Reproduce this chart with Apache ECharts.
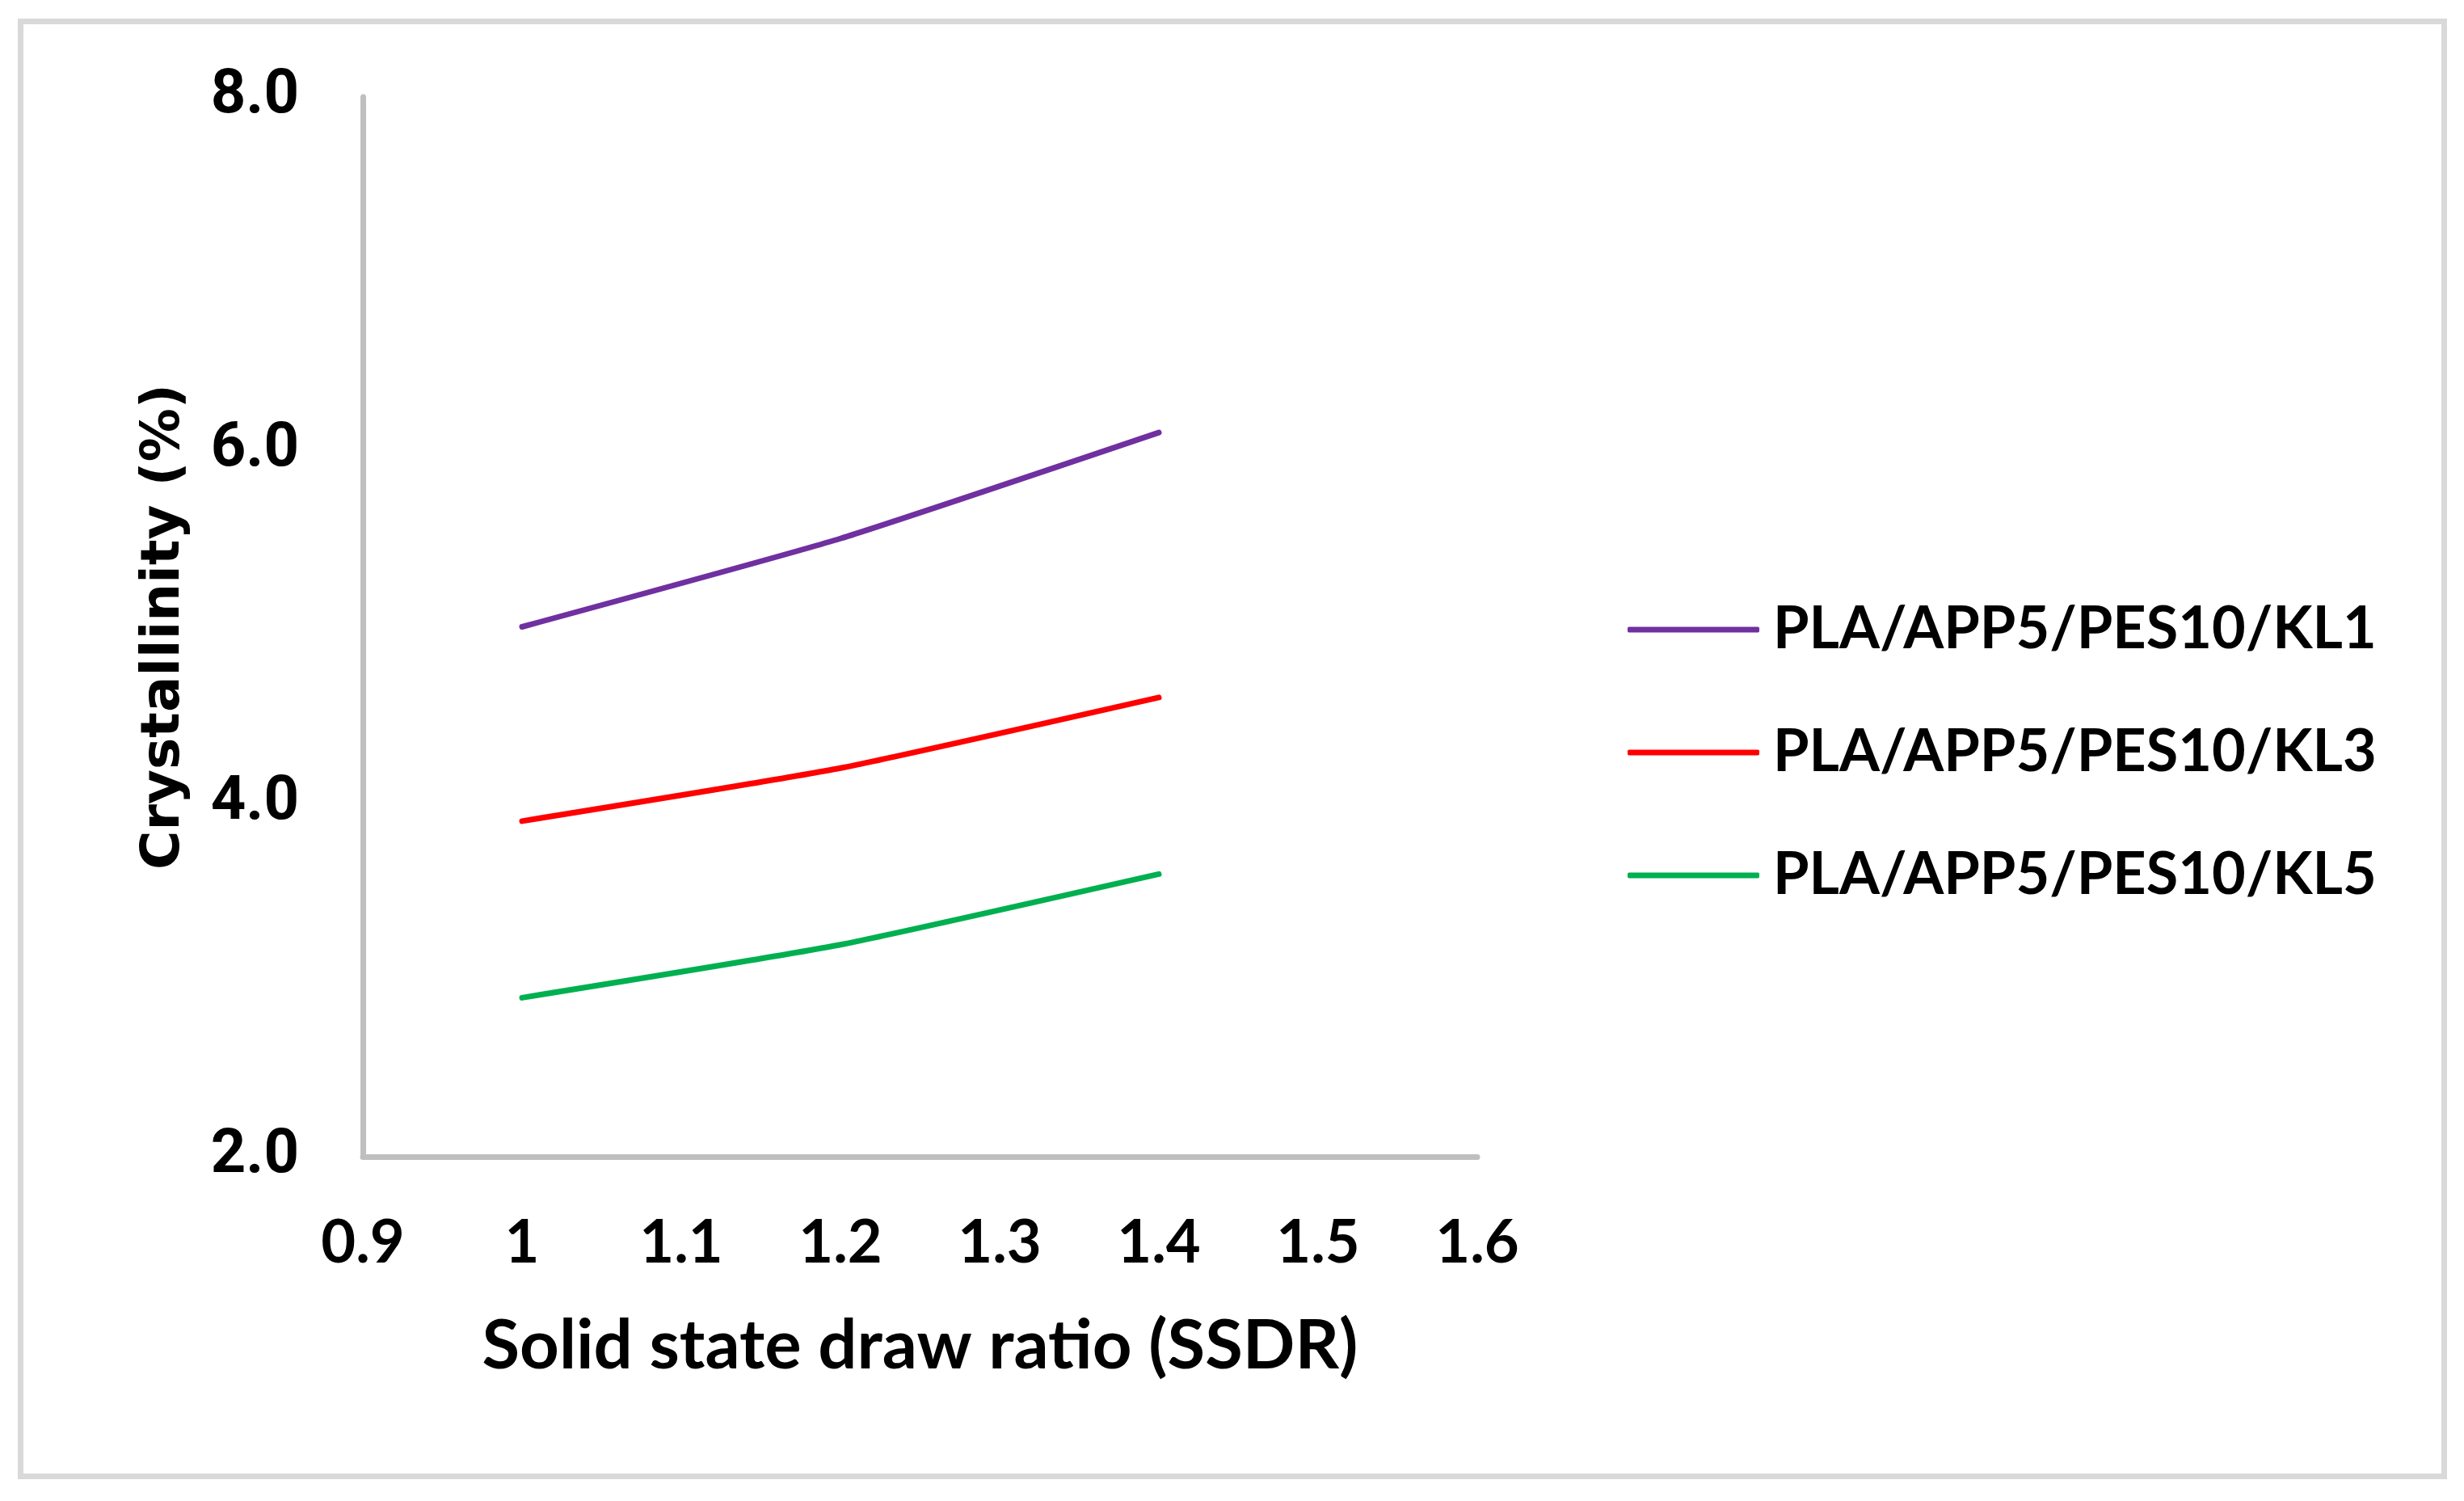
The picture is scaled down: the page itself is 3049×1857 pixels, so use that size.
<!DOCTYPE html>
<html>
<head>
<meta charset="utf-8">
<script src="https://cdn.jsdelivr.net/npm/echarts@6/dist/echarts.min.js"></script>
<style>
  html, body { margin: 0; padding: 0; background: #ffffff; }
  #chart { position: absolute; left: 0; top: 0; width: 3049px; height: 1857px; }
  #frame { position: absolute; left: 22px; top: 23px; width: 3006px; height: 1807px;
           border: 7px solid #d9d9d9; box-sizing: border-box; pointer-events: none; }
</style>
</head>
<body>
<div id="chart"></div>
<div id="frame"></div>
<script>
// ---- data ----
const ssdr = [1.0, 1.2, 1.4];
const seriesNames = ['PLA/APP5/PES10/KL1', 'PLA/APP5/PES10/KL3', 'PLA/APP5/PES10/KL5'];
const kl1 = [5.0, 5.5, 6.1];
const kl3 = [3.9, 4.2, 4.6];
const kl5 = [2.9, 3.2, 3.6];
const seriesColors = ['#7030A0', '#FF0000', '#00B050'];
const xTitle = 'Solid state draw ratio (SSDR)';
const yTitle = 'Crystallinity (%)';

const seriesValues = [kl1, kl3, kl5];

const chart = echarts.init(document.getElementById('chart'), null, { renderer: 'canvas' });

const labelFont = 'Lato, "Open Sans", sans-serif';

chart.setOption({
  animation: false,
  backgroundColor: '#ffffff',
  grid: { left: 449, top: 120, width: 1379, height: 1311, containLabel: false },
  xAxis: {
    type: 'value',
    min: 0.9, max: 1.6, interval: 0.1,
    name: xTitle,
    nameLocation: 'middle',
    nameGap: 192,
    nameTextStyle: { fontFamily: labelFont, fontWeight: 'bold', fontSize: 85, color: '#000' },
    axisLine: { show: true, lineStyle: { color: '#bfbfbf', width: 7 } },
    axisTick: { show: false },
    splitLine: { show: false },
    axisLabel: {
      margin: 70,
      fontFamily: labelFont, fontWeight: 'bold', fontSize: 74, color: '#000',
      formatter: v => String(Math.round(v * 10) / 10)
    }
  },
  yAxis: {
    type: 'value',
    min: 2, max: 8, interval: 2,
    name: yTitle,
    nameLocation: 'middle',
    nameRotate: 90,
    nameGap: 212,
    nameTextStyle: { fontFamily: '"DejaVu Sans", Verdana, sans-serif', fontWeight: 'bold', fontSize: 66, color: '#000' },
    axisLine: { show: true, lineStyle: { color: '#bfbfbf', width: 7 } },
    axisTick: { show: false },
    splitLine: { show: false },
    axisLabel: {
      margin: 79,
      fontFamily: 'Roboto, sans-serif', fontWeight: 'bold', fontSize: 76, color: '#000',
      formatter: v => v.toFixed(1)
    }
  },
  legend: {
    orient: 'vertical',
    left: 2009,
    top: 729,
    icon: 'roundRect',
    itemWidth: 163,
    itemHeight: 7,
    itemGap: 62,
    textStyle: { fontFamily: labelFont, fontWeight: 'bold', fontSize: 72, color: '#000',
                 lineHeight: 90, padding: [0, 0, 0, 12] },
    data: seriesNames
  },
  series: seriesNames.map((name, i) => ({
    name: name,
    type: 'line',
    data: ssdr.map((x, j) => [x, seriesValues[i][j]]),
    symbol: 'none',
    smooth: 0.15,
    color: seriesColors[i],
    itemStyle: { color: seriesColors[i] },
    lineStyle: { color: seriesColors[i], width: 7, cap: 'round', join: 'round' }
  }))
});
</script>
</body>
</html>
